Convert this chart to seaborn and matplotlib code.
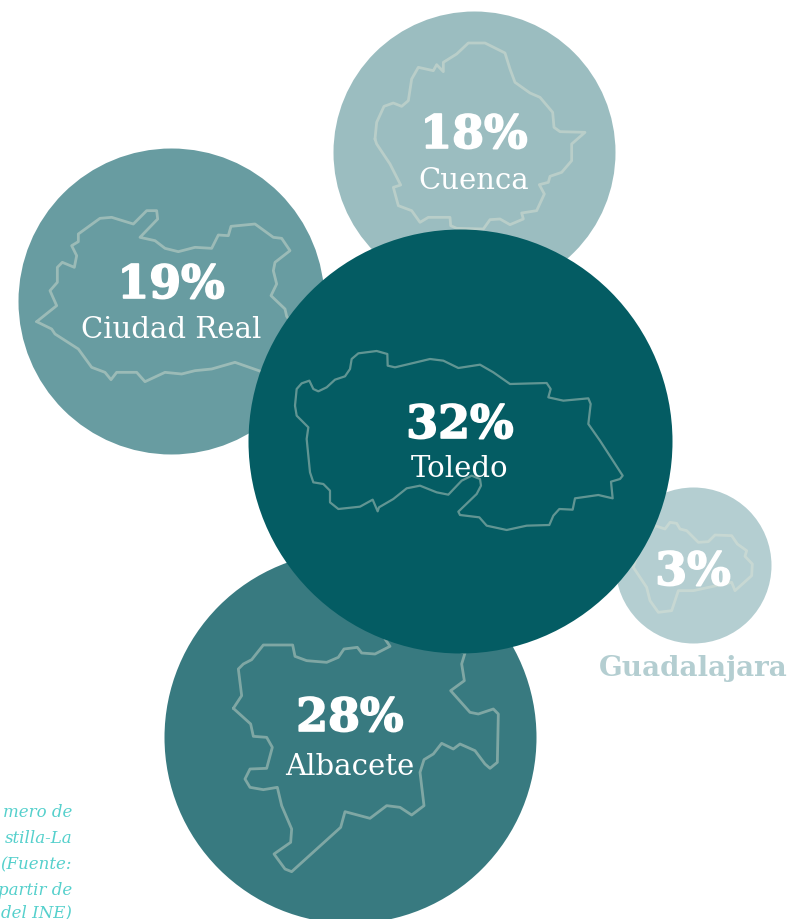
import matplotlib
matplotlib.use("Agg")
import matplotlib.pyplot as plt
import matplotlib.patheffects as pe
import seaborn as sns

# drawing order, Toledo sits on top of the others
names = ["Cuenca", "Ciudad Real", "Guadalajara", "Albacete", "Toledo"]
shares = ["18%", "19%", "3%", "28%", "32%"]
center_x = [474, 171, 693, 350, 460]
center_y = [153, 302, 566, 738, 442]
radius = [141, 153, 78, 186, 212]
colors = ["#9bbdc0", "#689ca1", "#b4ced1", "#387a80", "#045c63"]

cuenca = [(45,330),(50,280),(72,232),(100,222),(125,232),(145,215),(155,150),(175,115),(220,125),(230,107),(250,128),(250,100),(290,75),(325,42),(375,42),(435,72),(450,120),(465,160),(510,192),(540,205),(578,250),(582,295),(600,308),(675,310),(635,345),(635,395),(605,430),(570,442),(565,460),(538,467),(553,495),(530,545),(485,552),(490,570),(450,587),(420,570),(390,572),(370,600),(290,598),(272,590),(270,565),(205,565),(180,580),(155,545),(115,530),(100,475),(122,468),(90,405),(50,345),(45,330)]
ciudad_real = [(35,368),(95,320),(75,275),(97,250),(97,205),(112,190),(148,205),(155,170),(140,140),(160,128),(160,105),(225,58),(260,55),(325,75),(365,35),(395,35),(398,60),(345,115),(390,125),(420,148),(460,158),(510,145),(560,148),(580,108),(610,110),(618,82),(690,75),(745,115),(770,118),(795,155),(750,190),(745,215),(755,255),(738,290),(780,330),(785,352),(840,430),(710,518),(630,490),(560,510),(510,515),(470,525),(420,520),(360,548),(335,520),(275,520),(258,542),(240,520),(200,505),(160,450),(90,405),(80,390),(35,368)]
guadalajara = [(165,140),(195,150),(210,130),(230,133),(240,150),(260,155),(295,190),(325,188),(345,168),(395,170),(412,195),(440,215),(435,232),(457,255),(455,290),(405,335),(395,310),(280,335),(235,335),(215,395),(175,400),(150,365),(140,325),(100,265),(120,200),(165,140)]
albacete = [(40,238),(65,200),(55,120),(70,105),(95,92),(130,48),(218,48),(225,82),(260,95),(320,100),(355,85),(372,60),(412,55),(425,72),(465,75),(510,52),(495,30),(620,40),(735,72),(725,105),(733,155),(692,185),(750,250),(775,255),(820,240),(835,255),(832,400),(810,418),(795,405),(765,365),(720,345),(700,360),(665,343),(640,375),(612,392),(600,430),(612,530),(575,558),(540,535),(500,530),(450,568),(375,548),(362,595),(215,728),(195,720),(162,675),(212,640),(215,600),(185,530),(172,475),(130,482),(90,475),(75,450),(90,420),(140,418),(157,355),(140,325),(100,322),(92,285),(40,238)]
toledo = [(45,200),(50,150),(65,133),(88,125),(100,150),(115,157),(140,145),(165,122),(195,112),(210,90),(215,60),(235,43),(290,36),(322,45),(323,80),(345,85),(400,72),(450,60),(490,65),(535,87),(600,77),(640,100),(690,135),(800,132),(812,150),(805,175),(850,185),(925,178),(932,195),(925,255),(960,305),(1028,410),(1020,420),(993,428),(998,478),(955,468),(885,478),(878,512),(838,510),(820,530),(808,558),(740,560),(680,573),(620,560),(598,535),(540,528),(535,518),(590,465),(603,440),(600,420),(575,410),(545,425),(505,467),(470,460),(420,440),(380,448),(340,480),(297,505),(293,517),(278,482),(240,503),(175,510),(150,490),(150,455),(130,435),(100,430),(90,400),(80,300),(85,265),(50,230),(45,200)]
outlines = [cuenca, ciudad_real, guadalajara, albacete, toledo]
origins = [(360, 30), (25, 200), (600, 480), (220, 630), (280, 340)]

note_lines = ["mero de", "stilla-La", "(Fuente:", "partir de", "del INE)"]
note_y = [817, 843, 869, 895, 917]

sns.set_theme(style="white")
fig = plt.figure(figsize=(7.88, 9.2), dpi=100)
ax = fig.add_axes([0, 0, 1, 1])

for i, name in enumerate(names):
    size = (2 * radius[i] * 0.72) ** 2
    sns.scatterplot(x=[center_x[i]], y=[center_y[i]], s=size, color=colors[i], linewidth=0, ax=ax, legend=False, zorder=2 * i + 1)
    ox, oy = origins[i]
    xs = [p[0] / 3 + ox for p in outlines[i]]
    ys = [p[1] / 3 + oy for p in outlines[i]]
    lw = 1.6 if name == "Toledo" else 2.0
    sns.lineplot(x=xs, y=ys, sort=False, estimator=None, color="#e3e6d6", alpha=0.42, linewidth=lw, ax=ax, legend=False,
                 zorder=2 * i + 2, solid_joinstyle="round")

ax.set_xlim(0, 788)
ax.set_ylim(920, 0)
ax.axis("off")

# percent and province label positions
pct_y = [136, 286, 573, 719, 426]
label_y = [181, 330, 669, 767, 469]
for i, name in enumerate(names):
    ax.text(center_x[i], pct_y[i], shares[i], color="white", family="DejaVu Serif", weight="bold",
            fontsize=33, ha="center", va="center", zorder=20,
            path_effects=[pe.withStroke(linewidth=1.2, foreground="white")])
    lab_color = "#b4ced1" if name == "Guadalajara" else "white"
    lab_weight = "bold" if name == "Guadalajara" else "normal"
    lab_size = 20 if name == "Guadalajara" else 21
    ax.text(center_x[i], label_y[i], name, color=lab_color, family="DejaVu Serif", weight=lab_weight,
            fontsize=lab_size, ha="center", va="center", zorder=20)

for line, y in zip(note_lines, note_y):
    ax.text(72, y, line, color="#55d0cc", family="DejaVu Serif", style="italic", fontsize=12, ha="right", va="baseline", zorder=20)

fig.savefig("out.png", dpi=100)
